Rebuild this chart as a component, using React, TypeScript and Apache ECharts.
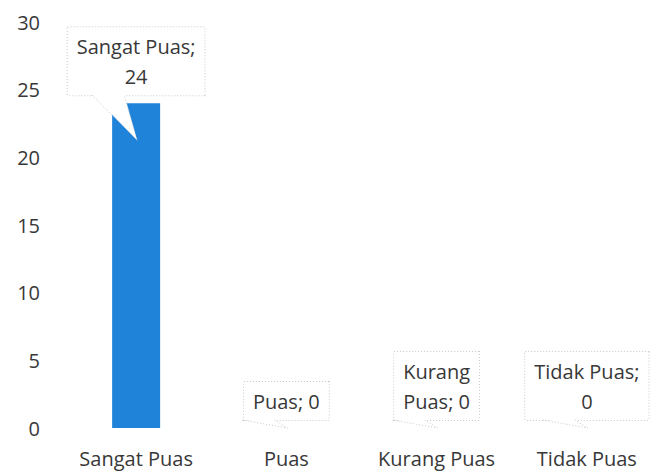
import React, { useEffect, useRef } from "react";
import * as echarts from "echarts";

const categories = ["Sangat Puas", "Puas", "Kurang Puas", "Tidak Puas"];
const values = [24, 0, 0, 0];
const yTicks = { min: 0, max: 30, interval: 5 };
// how each data label wraps (words before the line break)
const labelBreaks = [2, 0, 1, 2];

const FONT = '"Open Sans", sans-serif';
const TEXT = "#383838";

function labelText(i: number): string {
  const full = `${categories[i]}; ${values[i]}`;
  const words = full.split(" ");
  const b = labelBreaks[i];
  if (b <= 0 || b >= words.length) return full;
  return words.slice(0, b).join(" ") + "\n" + words.slice(b).join(" ");
}

export default function App() {
  const ref = useRef<HTMLDivElement>(null);
  useEffect(() => {
    document.body.style.margin = "0";
    if (!ref.current) return;
    const chart = echarts.init(ref.current, undefined, { renderer: "svg" });
    const zeroCoord = (api: any) => api.coord([0, 0])[1];
    chart.setOption({
      animation: false,
      backgroundColor: "#ffffff",
      grid: { left: 61, top: 22, width: 604, bottom: 45, containLabel: false },
      xAxis: {
        type: "category",
        data: categories,
        axisLine: { show: false },
        axisTick: { show: false },
        axisLabel: {
          color: TEXT,
          fontFamily: FONT,
          fontSize: 20,
          margin: 20,
          interval: 0,
          hideOverlap: false,
        },
      },
      yAxis: {
        type: "value",
        min: yTicks.min,
        max: yTicks.max,
        interval: yTicks.interval,
        axisLine: { show: false },
        axisTick: { show: false },
        splitLine: { show: false },
        axisLabel: { color: TEXT, fontFamily: FONT, fontSize: 20, margin: 21 },
      },
      series: [
        {
          type: "bar",
          data: values,
          barWidth: 48,
          itemStyle: { color: "#1f84d9" },
          z: 2,
        },
        {
          type: "custom",
          coordinateSystem: "cartesian2d",
          data: values.map((v, i) => [i, v]),
          encode: { x: 0, y: 1 },
          clip: false,
          z: 5,
          renderItem: (params: any, api: any) => {
            const i = api.value(0);
            const v = api.value(1);
            const p = api.coord([i, v]);
            const cx = p[0];
            const boxBottom = p[1] - 8;
            const tipY = Math.min(p[1] + 37, zeroCoord(api));
            const baseL = cx - 44;
            const baseR = cx - 12;
            const tipX = cx + 1;
            return {
              type: "group",
              children: [
                {
                  type: "text",
                  style: {
                    text: labelText(params.dataIndex),
                    x: cx,
                    y: boxBottom,
                    align: "center",
                    verticalAlign: "bottom",
                    font: `20px ${FONT}`,
                    fontFamily: FONT,
                    fontSize: 20,
                    lineHeight: 30,
                    fill: TEXT,
                    backgroundColor: "#ffffff",
                    borderColor: "#c9c9c9",
                    borderWidth: 1,
                    borderType: "dotted",
                    borderDash: [1, 2],
                    padding: [4, 9, 4, 9],
                  },
                },
                {
                  type: "polygon",
                  shape: {
                    points: [
                      [baseL, boxBottom - 1],
                      [tipX, tipY],
                      [baseR, boxBottom - 1],
                    ],
                  },
                  style: { fill: "#ffffff", stroke: null },
                },
                {
                  type: "polyline",
                  shape: {
                    points: [
                      [baseL, boxBottom],
                      [tipX, tipY],
                      [baseR, boxBottom],
                    ],
                  },
                  style: {
                    fill: null,
                    stroke: "#c9c9c9",
                    lineWidth: 1,
                    lineDash: [1, 2],
                  },
                },
              ],
            };
          },
        },
      ],
    });
    return () => chart.dispose();
  }, []);
  return <div ref={ref} style={{ width: 662, height: 473 }} />;
}
